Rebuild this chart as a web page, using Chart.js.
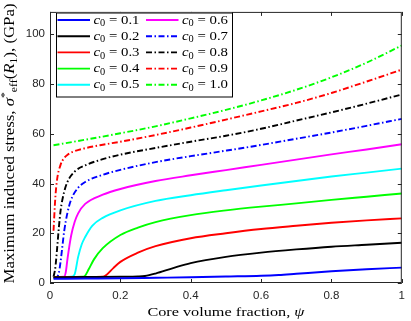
<!DOCTYPE html>
<html><head><meta charset="utf-8">
<script src="https://cdn.jsdelivr.net/npm/chart.js@4/dist/chart.umd.min.js"></script>
<style>html,body{margin:0;padding:0;background:#fff}canvas{display:block}</style>
</head><body>
<canvas id="c" width="411" height="321"></canvas>
<script>
// ---- data ----
const c0Values = [0.1, 0.2, 0.3, 0.4, 0.5, 0.6, 0.7, 0.8, 0.9, 1.0];

const psi01 = [0.01, 0.1, 0.2, 0.3, 0.4, 0.5, 0.6, 0.65, 0.7, 0.8, 0.9, 1.0];
const sig01 = [1.7, 1.8, 1.9, 2.1, 2.3, 2.6, 2.9, 3.2, 3.7, 4.7, 5.5, 6.2];

const psi02 = [0.01, 0.1, 0.2, 0.25, 0.27, 0.3, 0.35, 0.4, 0.5, 0.6, 0.7, 0.8, 0.9, 1.0];
const sig02 = [2.3, 2.4, 2.5, 2.6, 2.8, 3.8, 6.0, 8.0, 10.5, 12.2, 13.5, 14.6, 15.4, 16.2];

const psi03 = [0.01, 0.1, 0.15, 0.16, 0.18, 0.2, 0.25, 0.3, 0.4, 0.5, 0.6, 0.7, 0.8, 0.9, 1.0];
const sig03 = [2.3, 2.4, 2.5, 3.2, 6.0, 8.5, 12.2, 14.8, 18.0, 20.0, 21.7, 23.0, 24.2, 25.2, 26.0];

const psi04 = [0.01, 0.05, 0.09, 0.1, 0.11, 0.125, 0.15, 0.2, 0.25, 0.3, 0.4, 0.5, 0.6, 0.7, 0.8, 0.9, 1.0];
const sig04 = [2.3, 2.4, 2.5, 3.0, 5.5, 9.5, 14.0, 19.3, 22.3, 24.5, 27.3, 29.2, 30.7, 32.0, 33.4, 34.7, 36.0];

const psi05 = [0.01, 0.06, 0.07, 0.08, 0.09, 0.1, 0.12, 0.15, 0.2, 0.3, 0.4, 0.5, 0.6, 0.7, 0.8, 0.9, 1.0];
const sig05 = [2.3, 2.5, 3.5, 10.5, 15.5, 18.5, 23.0, 26.2, 29.2, 33.0, 35.3, 37.3, 39.2, 41.0, 42.8, 44.4, 46.0];

const psi06 = [0.01, 0.04, 0.045, 0.05, 0.06, 0.07, 0.08, 0.1, 0.15, 0.2, 0.3, 0.4, 0.5, 0.6, 0.7, 0.8, 0.9, 1.0];
const sig06 = [2.3, 2.5, 4.5, 10.0, 19.0, 24.5, 28.0, 31.8, 35.5, 37.8, 41.0, 43.3, 45.4, 47.5, 49.6, 51.7, 53.7, 55.8];

const psi07 = [0.01, 0.02, 0.025, 0.03, 0.035, 0.04, 0.05, 0.06, 0.08, 0.1, 0.15, 0.2, 0.3, 0.4, 0.5, 0.6, 0.7, 0.8, 0.9, 1.0];
const sig07 = [2.3, 2.5, 4.0, 8.5, 14.5, 20.5, 28.5, 33.5, 38.3, 40.6, 43.5, 45.5, 48.6, 51.0, 53.2, 55.5, 58.0, 60.5, 63.2, 66.0];

const psi08 = [0.01, 0.015, 0.02, 0.025, 0.03, 0.04, 0.05, 0.07, 0.1, 0.15, 0.2, 0.3, 0.4, 0.5, 0.6, 0.7, 0.8, 0.9, 1.0];
const sig08 = [2.5, 6.0, 13.5, 22.0, 29.0, 36.5, 40.8, 44.8, 47.3, 49.8, 51.6, 54.3, 56.8, 59.2, 62.0, 65.3, 68.6, 72.1, 75.8];

const psi09 = [0.01, 0.015, 0.02, 0.03, 0.04, 0.05, 0.07, 0.1, 0.15, 0.2, 0.3, 0.4, 0.5, 0.6, 0.7, 0.8, 0.9, 1.0];
const sig09 = [21.0, 34.0, 41.5, 47.5, 50.2, 51.6, 53.0, 54.2, 55.6, 56.8, 59.5, 62.5, 65.7, 69.0, 72.4, 76.4, 81.0, 85.8];

const psi10 = [0.01, 0.1, 0.2, 0.3, 0.4, 0.5, 0.6, 0.7, 0.8, 0.9, 1.0];
const sig10 = [55.4, 57.6, 60.2, 63.0, 66.2, 69.6, 73.4, 77.7, 82.7, 88.6, 95.5];

const xTickValues = [0, 0.2, 0.4, 0.6, 0.8, 1];
const yTickValues = [0, 20, 40, 60, 80, 100];

// ---- styles ----
const psiSets = [psi01, psi02, psi03, psi04, psi05, psi06, psi07, psi08, psi09, psi10];
const sigSets = [sig01, sig02, sig03, sig04, sig05, sig06, sig07, sig08, sig09, sig10];
const colors = ['#0000ff','#000000','#ff0000','#00ff00','#00ffff','#ff00ff','#0000ff','#000000','#ff0000','#00ff00'];
const DASHDOT = [6, 2.5, 1.5, 2.5];
const AX = '#262626';
const SERIF = '"Liberation Serif", "DejaVu Serif", serif';
const SANS = '"Liberation Sans", Arial, sans-serif';

const datasets = c0Values.map((c, i) => ({
  label: 'c\u2080 = ' + c.toFixed(1),
  data: psiSets[i].map((x, k) => ({x: x, y: sigSets[i][k]})),
  borderColor: colors[i],
  backgroundColor: colors[i],
  borderWidth: 1.9,
  borderDash: i >= 6 ? DASHDOT : [],
  pointRadius: 0,
  cubicInterpolationMode: 'monotone',
  fill: false
}));

function fontFor(p, size) {
  const s = p[2] === 'n' ? size : size * 0.7;
  return (p[1] === 'i' ? 'italic ' : '') + s.toFixed(2) + 'px ' + SERIF;
}
function richWidth(ctx, pieces, size) {
  let w = 0;
  for (const p of pieces) { ctx.font = fontFor(p, size); w += ctx.measureText(p[0]).width; }
  return w;
}
// draws rich text starting at (x,y), horizontally stretched to width `target`
function drawRich(ctx, pieces, x, y, size, target) {
  const nat = richWidth(ctx, pieces, size);
  const sx = target ? target / nat : 1;
  ctx.save();
  ctx.translate(x, y);
  ctx.scale(sx, 1);
  let cx = 0;
  for (const p of pieces) {
    ctx.font = fontFor(p, size);
    let dy = 0;
    if (p[2] === 'sub') dy = size * 0.28;
    if (p[2] === 'sup') dy = -size * 0.36;
    ctx.fillText(p[0], cx, dy);
    cx += ctx.measureText(p[0]).width;
  }
  ctx.restore();
}

const framePlugin = {
  id: 'frame',
  afterDraw(chart) {
    const ctx = chart.ctx, a = chart.chartArea;
    const xs = chart.scales.x, ys = chart.scales.y;
    ctx.save();
    ctx.strokeStyle = AX; ctx.lineWidth = 1;
    ctx.strokeRect(a.left + 0.5, a.top + 0.5, a.right - a.left - 1, a.bottom - a.top - 1);
    ctx.beginPath();
    const tl = 4;
    for (const v of xTickValues) {
      const px = Math.round(xs.getPixelForValue(v)) + 0.5;
      ctx.moveTo(px, a.bottom); ctx.lineTo(px, a.bottom - tl);
      ctx.moveTo(px, a.top); ctx.lineTo(px, a.top + tl);
    }
    for (const v of yTickValues) {
      const py = Math.round(ys.getPixelForValue(v)) + 0.5;
      ctx.moveTo(a.left, py); ctx.lineTo(a.left + tl, py);
      ctx.moveTo(a.right, py); ctx.lineTo(a.right - tl, py);
    }
    ctx.stroke();

    // axis titles
    ctx.fillStyle = '#000';
    ctx.textBaseline = 'middle';
    ctx.textAlign = 'left';
    const xt = [['Core volume fraction, ', 'n', 'n'], ['\u03c8', 'i', 'n']];
    drawRich(ctx, xt, (a.left + a.right) / 2 - 157 / 2, 312, 13.5, 157);

    const yt = [['Maximum induced stress, ', 'n', 'n'], ['\u03c3', 'i', 'n'], ['*', 'n', 'sup'], ['eff', 'n', 'sub'],
                ['(', 'n', 'n'], ['R', 'i', 'n'], ['1', 'n', 'sub'], ['), (GPa)', 'n', 'n']];
    const yw = 280;
    ctx.save();
    ctx.translate(10.5, 143.5);
    ctx.rotate(-Math.PI / 2);
    drawRich(ctx, yt, -yw / 2, 0, 14, yw);
    ctx.restore();
    ctx.restore();

    // legend
    ctx.save();
    const bx = 56, by = 12.5, bw = 176, bh = 84;
    ctx.fillStyle = '#fff';
    ctx.fillRect(bx, by, bw, bh);
    ctx.strokeStyle = '#000'; ctx.lineWidth = 1;
    ctx.strokeRect(bx + 0.5, by + 0.5, bw, bh);
    ctx.textBaseline = 'middle';
    chart.data.datasets.forEach((ds, i) => {
      const col = Math.floor(i / 5), row = i % 5;
      const lx = col === 0 ? 57.5 : 146;
      const ly = 20 + row * 16.2;
      ctx.strokeStyle = ds.borderColor;
      ctx.lineWidth = 1.9;
      ctx.setLineDash(ds.borderDash || []);
      ctx.beginPath(); ctx.moveTo(lx, ly); ctx.lineTo(lx + 32.5, ly); ctx.stroke();
      ctx.setLineDash([]);
      ctx.fillStyle = '#000';
      const txt = [['c', 'i', 'n'], ['0', 'n', 'sub'], [' = ' + c0Values[i].toFixed(1), 'n', 'n']];
      drawRich(ctx, txt, lx + 36, ly, 13.5, 46);
    });
    ctx.restore();
  }
};

new Chart(document.getElementById('c'), {
  type: 'line',
  data: { datasets: datasets },
  options: {
    responsive: false,
    animation: false,
    devicePixelRatio: 1,
    layout: { padding: { left: 0, right: 4.5, top: 2, bottom: 0 } },
    plugins: { legend: { display: false }, tooltip: { enabled: false } },
    scales: {
      x: {
        type: 'linear', min: 0, max: 1,
        grid: { display: false, drawTicks: false },
        border: { display: false },
        ticks: {
          stepSize: 0.2, includeBounds: false, padding: 6, color: AX,
          font: { family: SANS, size: 11.5 },
          callback: v => String(+v.toFixed(1))
        },
        afterFit: s => { s.height = 38; }
      },
      y: {
        type: 'linear', min: 0, max: 109,
        grid: { display: false, drawTicks: false },
        border: { display: false },
        ticks: {
          stepSize: 20, includeBounds: false, padding: 5, color: AX,
          font: { family: SANS, size: 11.5 }
        },
        afterFit: s => { s.width = 50; }
      }
    }
  },
  plugins: [framePlugin]
});
</script>
</body></html>
